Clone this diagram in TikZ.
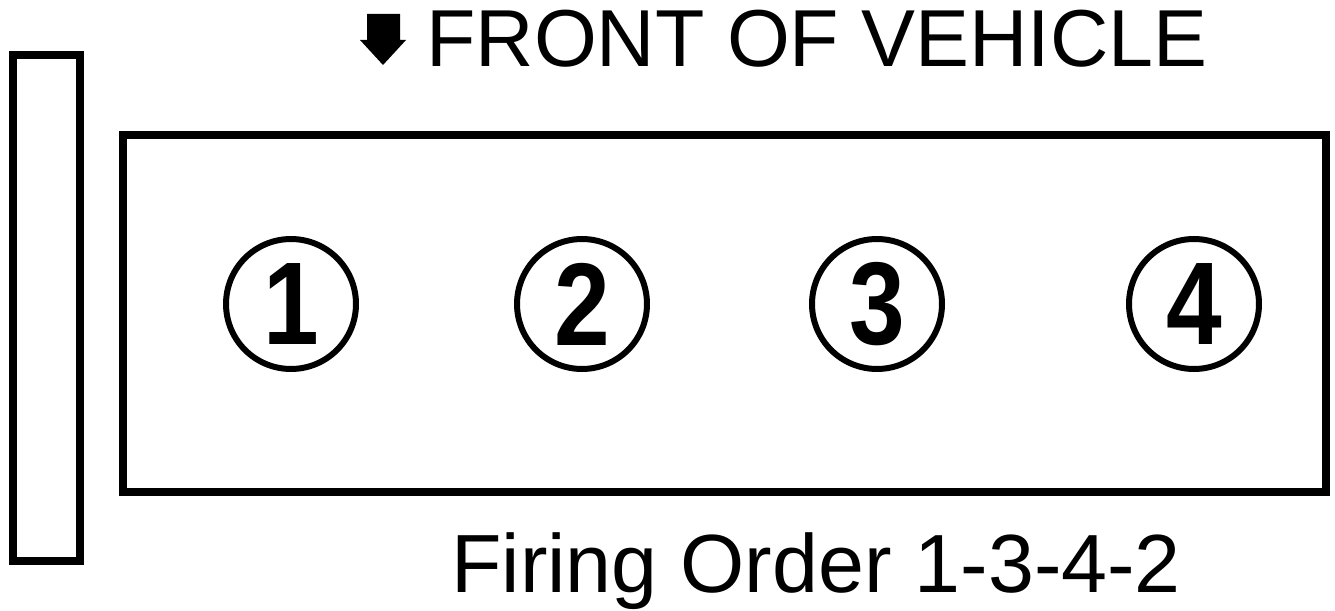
\documentclass[tikz,border=0pt]{standalone}
\usepackage{fontspec}
\setmainfont{Liberation Sans}
\usetikzlibrary{positioning}

\begin{document}
\begin{tikzpicture}[
  x=0.02cm, y=-0.02cm,
  font=\fontsize{46}{50}\selectfont,
  block/.style={draw=black, line width=0.16cm},
  cyl/.style={
    draw=black, line width=0.12cm, circle, inner sep=0pt,
    minimum size=2.6cm, font=\fontsize{67}{70}\selectfont\bfseries
  },
  caption/.style={inner sep=0pt, anchor=base west},
]
\useasboundingbox (0,0) rectangle (1335,611);

% ---- Flywheel and engine block ----
\draw[block] (13,55) rectangle (80,561);
\draw[block] (123,135) rectangle (1326,492);

% ---- Cylinders ----
\foreach \n/\x in {1/291, 2/582, 3/877, 4/1194}
  \node[cyl] (cyl\n) at (\x,304) {\scalebox{0.85}[1]{\n}};

% ---- Labels ----
\fill (367,14) -- (400,14) -- (400,40) -- (406,40) -- (383,65)
  -- (360,40) -- (367,40) -- cycle;
\node[caption] (front) at (426,67) {FRONT OF VEHICLE};
\node[caption] (order) at (451,592) {\fontsize{47}{50}\selectfont Firing Order 1-3-4-2};

\end{tikzpicture}
\end{document}
